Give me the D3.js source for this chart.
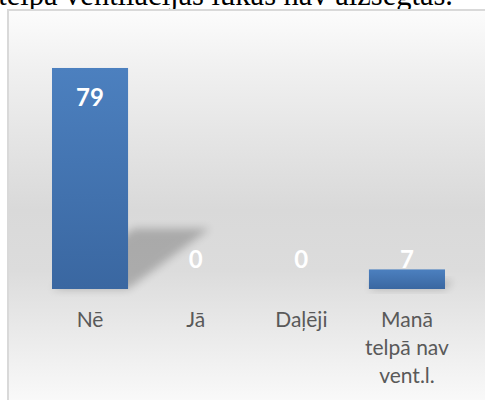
<!DOCTYPE html>
<html><head><meta charset="utf-8">
<script src="https://cdn.jsdelivr.net/npm/d3@7"></script>
<style>html,body{margin:0;padding:0;background:#fff;overflow:hidden}</style>
</head><body>
<svg id="c" width="485" height="400"></svg>
<script>
const categories = ["Nē", "Jā", "Daļēji", "Manā telpā nav vent.l."];
const categoryLines = [["Nē"], ["Jā"], ["Daļēji"], ["Manā", "telpā nav", "vent.l."]];
const values = [79, 0, 0, 7];
const titleText = "telpā ventilācijas lūkas nav aizsegtas.";

const svg = d3.select("#c");
const defs = svg.append("defs");

const bg = defs.append("linearGradient").attr("id","bg").attr("x1",0).attr("y1",0).attr("x2",0).attr("y2",1);
bg.append("stop").attr("offset","0%").attr("stop-color","#fcfcfc");
bg.append("stop").attr("offset","15%").attr("stop-color","#f0f0f0");
bg.append("stop").attr("offset","50%").attr("stop-color","#d9d9d9");
bg.append("stop").attr("offset","65%").attr("stop-color","#dcdcdc");
bg.append("stop").attr("offset","100%").attr("stop-color","#fbfbfb");

const bar = defs.append("linearGradient").attr("id","bar").attr("x1",0).attr("y1",0).attr("x2",0).attr("y2",1);
bar.append("stop").attr("offset","0%").attr("stop-color","#4c80bf");
bar.append("stop").attr("offset","100%").attr("stop-color","#3a67a1");

const blur = defs.append("filter").attr("id","blur").attr("x","-50%").attr("y","-50%").attr("width","200%").attr("height","200%");
blur.append("feGaussianBlur").attr("stdDeviation",4);

// title (cut off at top, as in the reference)
const probe = svg.append("text").attr("font-family","Liberation Serif, serif").attr("font-size",22)
  .text("ventilācijas lūkas nav aizsegtas.");
const w22 = probe.node().getComputedTextLength();
probe.remove();
const titleSize = 22 * 388 / w22;
svg.append("text").attr("x",453).attr("y",5).attr("text-anchor","end")
  .attr("font-family","Liberation Serif, serif").attr("font-size",titleSize).attr("fill","#000")
  .text(titleText);

// chart area
svg.append("rect").attr("x",8).attr("y",10).attr("width",490).attr("height",400)
  .attr("fill","url(#bg)").attr("stroke","#d9d9d9").attr("stroke-width",2);

const x = d3.scaleBand().domain(categories).range([37.2,459.8]).paddingInner(0.28).paddingOuter(0.14);
const y = d3.scaleLinear().domain([0,90]).range([289,37.2]);

const data = categories.map((c,i)=>({c, v: values[i], lines: categoryLines[i]}));

// shadows
svg.append("g").selectAll("polygon").data(data.filter(d=>d.v>0)).join("polygon")
  .attr("points", d=>{
    const x0 = x(d.c), x1 = x0 + x.bandwidth(), base = y(0), h = y(0) - y(d.v);
    const dx = 0.37*h, dy = 0.26*h + 3;
    return [[x0,base],[x1,base],[x1+dx,base-dy],[x0+dx,base-dy]].map(p=>p.join(",")).join(" ");
  })
  .attr("fill","#000").attr("opacity",0.22).attr("filter","url(#blur)");

// bars
svg.append("g").selectAll("rect").data(data).join("rect")
  .attr("x", d=>x(d.c)).attr("width", x.bandwidth())
  .attr("y", d=>y(d.v)).attr("height", d=>y(0)-y(d.v))
  .attr("fill","url(#bar)");

// data labels
svg.append("g").selectAll("text").data(data).join("text")
  .attr("x", d=>x(d.c)+x.bandwidth()/2)
  .attr("y", d=>Math.min(y(d.v)+38, 268))
  .attr("text-anchor","middle")
  .attr("font-family","Lato, sans-serif").attr("font-weight","bold").attr("font-size",24)
  .attr("fill","#fff").text(d=>d.v);

// category labels
const cl = svg.append("g").selectAll("text").data(data).join("text")
  .attr("x", d=>x(d.c)+x.bandwidth()/2)
  .attr("y", 327)
  .attr("text-anchor","middle")
  .attr("font-family","Lato, sans-serif").attr("font-size",21)
  .attr("fill","#595959");
cl.selectAll("tspan").data(d=>d.lines.map(l=>({l, x: x(d.c)+x.bandwidth()/2}))).join("tspan")
  .attr("x", t=>t.x).attr("dy",(t,i)=>i===0?0:28).text(t=>t.l);
</script>
</body></html>
